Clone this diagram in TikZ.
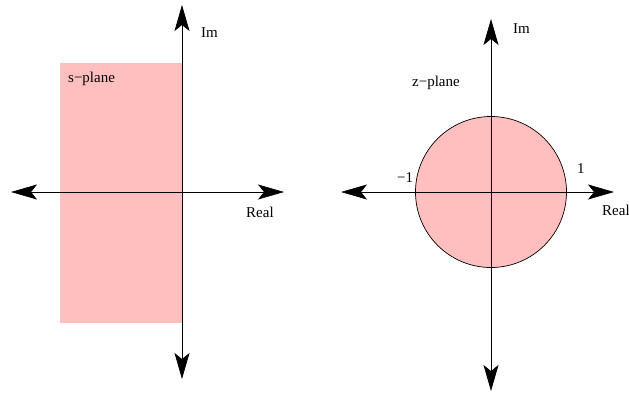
\documentclass[tikz,border=0pt]{standalone}
\usepackage{fontspec}
\setmainfont{Liberation Serif}
\usetikzlibrary{arrows.meta}
\definecolor{regionpink}{HTML}{FFBFBF}
\begin{document}
\begin{tikzpicture}[x=1pt,y=-1pt,
  axis/.style={line width=0.7pt,{Stealth[length=26pt,width=15pt,inset=6pt]}-{Stealth[length=26pt,width=15pt,inset=6pt]}},
  lbl/.style={inner sep=0pt,anchor=base west,font=\fontsize{15}{18}\selectfont}]
\useasboundingbox (0,0) rectangle (629,394);
% s-plane
\fill[regionpink] (60,63) rectangle (182,323);
\coordinate (sL) at (11,192);
\coordinate (sR) at (284,192);
\coordinate (sT) at (182,5);
\coordinate (sB) at (182,379);
\draw[axis] (sL) -- (sR);
\draw[axis] (sT) -- (sB);
\node[lbl] (sim) at (201,37) {Im};
\node[lbl] (sreal) at (246,217) {Real};
\node[lbl] (splane) at (68,82) {s−plane};
% z-plane
\coordinate (zc) at (491,192);
\fill[regionpink,draw=black,line width=0.7pt] (zc) circle[radius=75.5];
\coordinate (zL) at (341,192);
\coordinate (zR) at (614,192);
\coordinate (zT) at (491,19);
\coordinate (zB) at (491,391);
\draw[axis] (zL) -- (zR);
\draw[axis] (zT) -- (zB);
\node[lbl] (zim) at (513,33) {Im};
\node[lbl] (zreal) at (602,215) {Real};
\node[lbl] (zplane) at (412,86) {z−plane};
\node[lbl] (zm1) at (397,182) {−1};
\node[lbl] (zp1) at (577,173) {1};
\end{tikzpicture}
\end{document}
